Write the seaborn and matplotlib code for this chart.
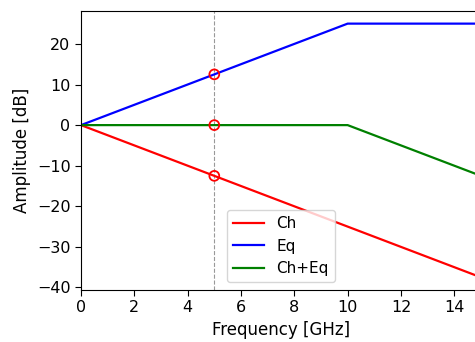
import numpy as np
import pandas as pd
import matplotlib
matplotlib.use("Agg")
import matplotlib.pyplot as plt
import seaborn as sns

# --- data ---
freq = [0, 5, 10, 15]            # GHz
ch = [0, -12.5, -25, -37.5]      # channel loss
eq = [0, 12.5, 25, 25]           # equalizer boost
ch_eq = [0, 0, 0, -12.5]         # combined
marker_f = 5
marker_vals = [12.5, 0, -12.5]

df = pd.concat([
    pd.DataFrame({"freq": freq, "amp": ch, "curve": "Ch"}),
    pd.DataFrame({"freq": freq, "amp": eq, "curve": "Eq"}),
    pd.DataFrame({"freq": freq, "amp": ch_eq, "curve": "Ch+Eq"}),
])
pts = pd.DataFrame({"freq": [marker_f] * len(marker_vals), "amp": marker_vals})

fig = plt.figure(figsize=(4.75, 3.42), dpi=100)
ax = fig.add_axes([0.1705, 0.152, 0.842, 0.816])

sns.lineplot(data=df, x="freq", y="amp", hue="curve",
             palette={"Ch": "red", "Eq": "blue", "Ch+Eq": "green"},
             linewidth=1.6, ax=ax)
ax.axvline(marker_f, color="gray", linestyle="--", linewidth=0.8, alpha=0.8, zorder=1)
sns.scatterplot(data=pts, x="freq", y="amp", marker="o", s=50,
                facecolor="none", edgecolor="red", linewidth=1.3, ax=ax, zorder=5)

ax.set_xlim(0, 15)
ax.set_xlabel("Frequency [GHz]", fontsize=12)
ax.set_ylabel("Amplitude [dB]", fontsize=12)
ax.tick_params(labelsize=11.5, length=4)
sns.move_legend(ax, "lower center", title=None, fontsize=11)

fig.savefig("out.png", dpi=100)
